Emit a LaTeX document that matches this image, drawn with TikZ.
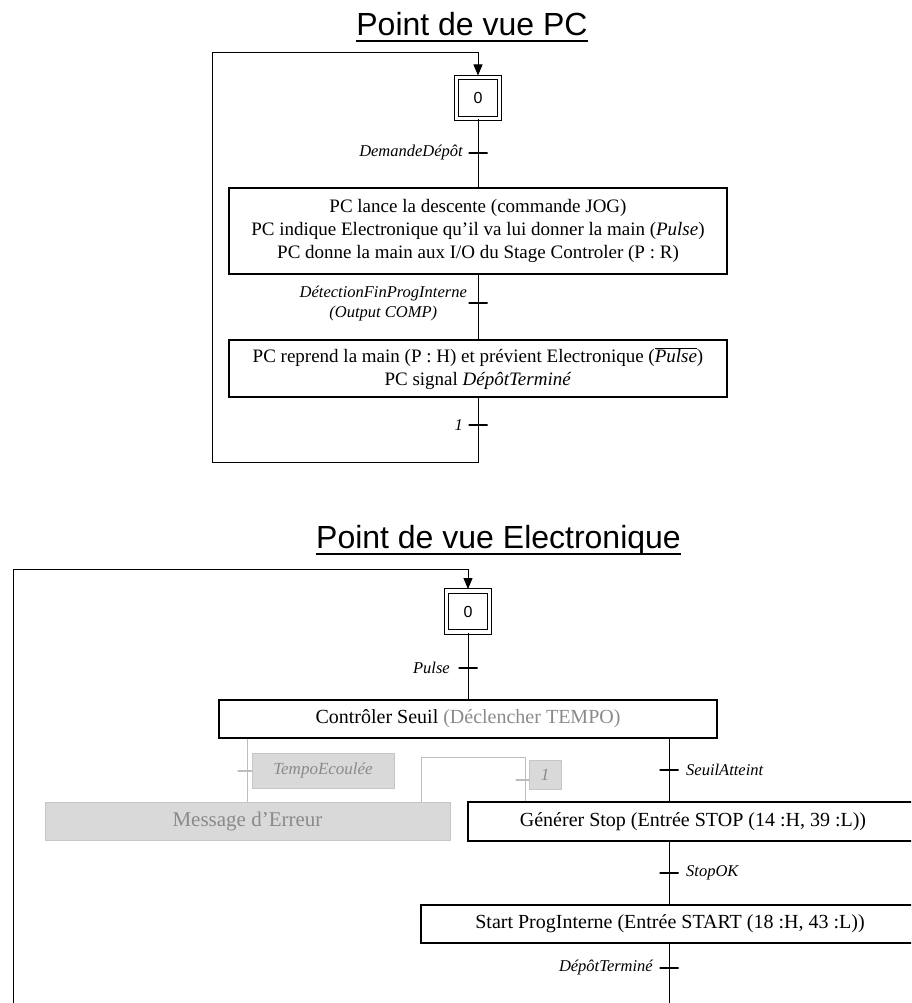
\documentclass[tikz,border=0pt]{standalone}
\usepackage{fontspec}
\setmainfont{Liberation Serif}
\newfontfamily\arialfont{Liberation Sans}
\usetikzlibrary{arrows.meta,calc}
\definecolor{lgray}{HTML}{BDBDBD}
\definecolor{tgray}{HTML}{8A8A8A}
\definecolor{fgray}{HTML}{D9D9D9}
\definecolor{bgray}{HTML}{C6C6C6}
\tikzset{
  titlenode/.style={inner sep=0pt, font=\arialfont\fontsize{32}{36}\selectfont},
  stepbox/.style={draw, line width=1.1pt, inner sep=0pt, align=center, font=\fontsize{19}{23}\selectfont},
  stepboxb/.style={draw, line width=1.1pt, inner sep=0pt, align=center, font=\fontsize{20}{24}\selectfont},
  graybox/.style={draw=bgray, fill=fgray, line width=1pt, inner sep=0pt, align=center, text=tgray},
  initstep/.style={draw, double, double distance=3.6pt, line width=1pt, minimum width=43pt, minimum height=41pt, inner sep=0pt, font=\arialfont\fontsize{16}{18}\selectfont},
  ticknode/.style={draw, line width=1.2pt, minimum width=19pt, minimum height=0pt, inner sep=0pt, outer sep=0pt},
  grayticknode/.style={ticknode, draw=lgray},
  lbl/.style={inner sep=0pt, font=\itshape\fontsize{16.5}{20}\selectfont},
  link/.style={line width=1pt},
  grayline/.style={draw=lgray, line width=1pt},
  arrowend/.style={-{Triangle[length=11pt,width=9pt]}, shorten >=1.5pt}
}
\begin{document}
\begin{tikzpicture}[x=1pt,y=-1pt]
\useasboundingbox (0,0) rectangle (911,1003);
\clip (0,0) rectangle (911,1003);
\fill[white] (0,0) rectangle (911,1003);

% ---------------- Point de vue PC ----------------
\node[titlenode, anchor=base] (h1) at (472,36) {Point de vue PC};
\draw[line width=1.6pt] ($(h1.base west)+(0,5)$) -- ($(h1.base east)+(0,5)$);

\node[initstep] (s0) at (478,98) {0};
\node[ticknode] (t1) at (478,153) {};
\node[lbl, anchor=east] (l1) at (463,153) {DemandeDépôt};
\node[stepbox, minimum width=498pt, minimum height=86pt] (b1) at (478,231)
  {PC lance la descente (commande JOG)\\
   PC indique Electronique qu’il va lui donner la main (\textit{Pulse})\\
   PC donne la main aux I/O du Stage Controler (P : R)};
\node[ticknode] (t2) at (478,303) {};
\node[lbl, anchor=east, align=center] (l2) at (467,304) {DétectionFinProgInterne\\(Output COMP)};
\node[stepbox, minimum width=498pt, minimum height=57pt] (b2) at (478,368.5)
  {PC reprend la main (P : H) et prévient Electronique ($\overline{\mbox{\itshape Pulse}}$)\\
   PC signal \textit{DépôtTerminé}};
\node[ticknode] (t3) at (478,425) {};
\node[lbl, anchor=east] (l3) at (463,425) {1};

\coordinate (c1) at (478,462);
\coordinate (c2) at (212,462);
\coordinate (c3) at (212,53);
\coordinate (c4) at (478,53);

\draw[link] (s0) -- (t1) -- (b1);
\draw[link] (b1) -- (t2) -- (b2);
\draw[link, arrowend] (b2) -- (t3) -- (c1) -- (c2) -- (c3) -- (c4) -- (s0.north);

% ---------------- Point de vue Electronique ----------------
\node[titlenode, anchor=base] (h2) at (498.5,548) {Point de vue Electronique};
\draw[line width=1.6pt] ($(h2.base west)+(0,6)$) -- ($(h2.base east)+(0,6)$);

\node[initstep] (s0b) at (468,611.5) {0};
\node[ticknode] (t4) at (468,668) {};
\node[lbl, anchor=east] (l4) at (450,668) {Pulse};
\node[stepboxb, minimum width=498pt, minimum height=38pt] (ctrl) at (468,719)
  {Contrôler Seuil {\color{tgray}(Déclencher TEMPO)}};

\node[ticknode] (t5) at (669,770) {};
\node[lbl, anchor=west] (l5) at (686,770) {SeuilAtteint};
\node[stepboxb, minimum width=450pt, minimum height=39pt] (gen) at (693,821.5)
  {Générer Stop (Entrée STOP (14 :H, 39 :L))};
\node[ticknode] (t6) at (669,873) {};
\node[lbl, anchor=west] (l6) at (686,873) {StopOK};
\node[stepboxb, minimum width=498pt, minimum height=38pt] (spi) at (670,924)
  {Start ProgInterne (Entrée START (18 :H, 43 :L))};
\node[ticknode] (t7) at (669,968) {};
\node[lbl, anchor=east] (l7) at (653,968) {DépôtTerminé};

% grey (inactive) branch
\node[grayticknode] (tg1) at (247,771) {};
\node[grayticknode] (tg2) at (525,780) {};
\node[graybox, minimum width=142pt, minimum height=35pt, font=\itshape\fontsize{17}{20}\selectfont] (lg1) at (323,770.5) {TempoEcoulée};
\node[graybox, minimum width=32pt, minimum height=29pt, font=\itshape\fontsize{17}{20}\selectfont] (lg2) at (545,774.5) {1};
\node[graybox, minimum width=405pt, minimum height=38pt, font=\fontsize{21}{24}\selectfont] (msg) at (247.5,821) {Message d’Erreur};

\coordinate (g1) at (421,757);
\coordinate (g2) at (525,757);
\draw[grayline] (tg1 |- ctrl.south) -- (tg1) -- (tg1 |- msg.north);
\draw[grayline] (msg.north -| g1) -- (g1) -- (g2) -- (tg2) -- (tg2 |- gen.north);

% loop of the second chart
\coordinate (d1) at (13,1030);
\coordinate (d2) at (13,569);
\coordinate (d3) at (468,569);
\coordinate (d4) at (669,1030);
\draw[link] (s0b) -- (t4) -- (ctrl);
\draw[link] (t5 |- ctrl.south) -- (t5) -- (t5 |- gen.north);
\draw[link] (t6 |- gen.south) -- (t6) -- (t6 |- spi.north);
\draw[link] (t7 |- spi.south) -- (t7) -- (d4);
\draw[link, arrowend] (d1) -- (d2) -- (d3) -- (s0b.north);
\end{tikzpicture}
\end{document}
